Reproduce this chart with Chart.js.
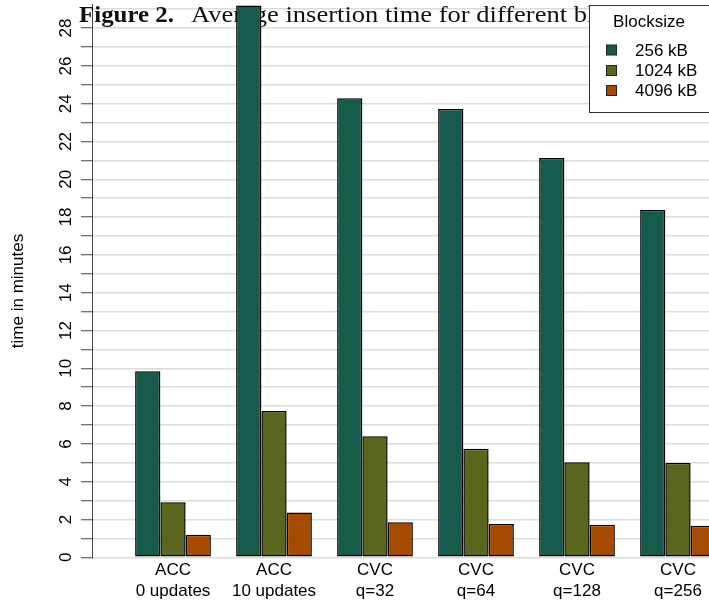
<!DOCTYPE html>
<html><head><meta charset="utf-8">
<script src="https://cdn.jsdelivr.net/npm/chart.js@4.4.0/dist/chart.umd.min.js"></script>
<style>html,body{margin:0;padding:0;background:#fff;overflow:hidden}canvas{display:block}</style>
</head><body>
<canvas id="c" width="709" height="605"></canvas>
<script>
const categories = [["ACC","0 updates"],["ACC","10 updates"],["CVC","q=32"],["CVC","q=64"],["CVC","q=128"],["CVC","q=256"]];
const seriesNames = ["256 kB","1024 kB","4096 kB"];
const s256  = [9.84, 29.2, 24.29, 23.72, 21.13, 18.38];
const s1024 = [2.91, 7.74, 6.40, 5.75, 5.03, 4.99];
const s4096 = [1.19, 2.37, 1.86, 1.76, 1.72, 1.67];
const yTickValues = [0,1,2,3,4,5,6,7,8,9,10,11,12,13,14,15,16,17,18,19,20,21,22,23,24,25,26,27,28,29];
const yTickLabels = ["0","2","4","6","8","10","12","14","16","18","20","22","24","26","28"];
const legendTitle = "Blocksize";
const titleBold = "Figure 2.";
const titleRest = "Average insertion time for different blocksizes";
const yAxisTitle = "time in minutes";
const colors = ["#165A4B","#5A661E","#A54B00"];

const SANS = '"Liberation Sans", Arial, Helvetica, sans-serif';
const SERIF = '"Liberation Serif", "Times New Roman", serif';

const seriesValues = [s256, s1024, s4096];
const datasets = seriesValues.map((vals, k) => ({
  label: seriesNames[k],
  data: vals.map((v, i) => ({x: i, y: v})),
  backgroundColor: colors[k],
  borderColor: "#000",
  borderWidth: 1.5,
  borderSkipped: false,
  categoryPercentage: 0.75,
  barPercentage: 1.0
}));

const titlePlugin = {
  id: "figTitle",
  beforeDatasetsDraw(chart) {
    const ctx = chart.ctx;
    ctx.save();
    ctx.fillStyle = "#111";
    ctx.textBaseline = "alphabetic";
    ctx.textAlign = "left";
    // bold part, stretched to the width of the reference caption font
    ctx.font = "bold 23px " + SERIF;
    let w = ctx.measureText(titleBold).width;
    let sx = 95 / w;
    ctx.save();
    ctx.translate(79, 22);
    ctx.scale(sx, 1);
    ctx.fillText(titleBold, 0, 0);
    ctx.restore();
    ctx.font = "23px " + SERIF;
    w = ctx.measureText("Average insertion time for different b").width;
    sx = 396 / w;
    ctx.save();
    ctx.translate(191, 22);
    ctx.scale(sx, 1);
    ctx.fillText(titleRest, 0, 0);
    ctx.restore();
    ctx.restore();
  }
};

const extrasPlugin = {
  id: "extras",
  afterDraw(chart) {
    const ctx = chart.ctx;
    ctx.save();
    ctx.translate(18, 291);
    ctx.rotate(-Math.PI / 2);
    ctx.font = "17px " + SANS;
    ctx.fillStyle = "#000";
    ctx.textAlign = "center";
    ctx.textBaseline = "middle";
    ctx.fillText(yAxisTitle, 0, 0);
    ctx.restore();

    ctx.save();
    const bx = 589.5, by = 5.5, bw = 125, bh = 107;
    ctx.fillStyle = "#fff";
    ctx.fillRect(bx, by, bw, bh);
    ctx.strokeStyle = "#333";
    ctx.lineWidth = 1;
    ctx.strokeRect(bx, by, bw, bh);
    ctx.font = "17px " + SANS;
    ctx.fillStyle = "#000";
    ctx.textAlign = "center";
    ctx.textBaseline = "middle";
    ctx.fillText(legendTitle, 649, 22);
    ctx.textAlign = "left";
    const rows = [50, 70.5, 90.5];
    chart.data.datasets.forEach((ds, k) => {
      const cy = rows[k];
      ctx.fillStyle = ds.backgroundColor;
      ctx.fillRect(606.5, cy - 5, 10, 10);
      ctx.strokeStyle = "#222";
      ctx.lineWidth = 1;
      ctx.strokeRect(606.5, cy - 5, 10, 10);
      ctx.fillStyle = "#000";
      ctx.fillText(ds.label, 635, cy + 1);
    });
    ctx.restore();
  }
};

new Chart(document.getElementById("c"), {
  type: "bar",
  data: { datasets },
  options: {
    responsive: false,
    animation: false,
    devicePixelRatio: 1,
    layout: { padding: { top: 4.5, left: 0, right: 0, bottom: 0 } },
    plugins: { legend: { display: false }, tooltip: { enabled: false }, title: { display: false } },
    scales: {
      x: {
        type: "linear",
        offset: false,
        min: -0.802,
        max: 5.307,
        afterBuildTicks: (s) => { s.ticks = categories.map((c, i) => ({ value: i })); },
        afterFit: (s) => { s.height = 47.7; s.paddingLeft = 0; s.paddingRight = 0; },
        grid: { display: false, offset: false, drawTicks: false },
        border: { display: false },
        ticks: {
          autoSkip: false,
          maxRotation: 0,
          padding: 2,
          color: "#000",
          font: { family: SANS, size: 17, lineHeight: 1.27 },
          callback: (v) => categories[v]
        }
      },
      y: {
        min: 0,
        max: 29.25,
        afterBuildTicks: (s) => { s.ticks = yTickValues.map(v => ({ value: v })); },
        afterFit: (s) => { s.width = 92; s.paddingTop = 0; s.paddingBottom = 0; },
        grid: {
          color: "#dcdcdc",
          lineWidth: 1.5,
          tickLength: 11,
          tickWidth: 1,
          tickColor: (c) => (c.tick && c.tick.value <= 28) ? "#444" : "rgba(0,0,0,0)"
        },
        border: { display: true, color: "#444", width: 1 },
        ticks: {
          autoSkip: false,
          minRotation: 90,
          maxRotation: 90,
          crossAlign: "center",
          padding: 5.5,
          color: "#000",
          font: { family: SANS, size: 17 },
          callback: (v) => yTickLabels.includes(String(v)) ? String(v) : ""
        }
      }
    }
  },
  plugins: [titlePlugin, extrasPlugin]
});
</script>
</body></html>
